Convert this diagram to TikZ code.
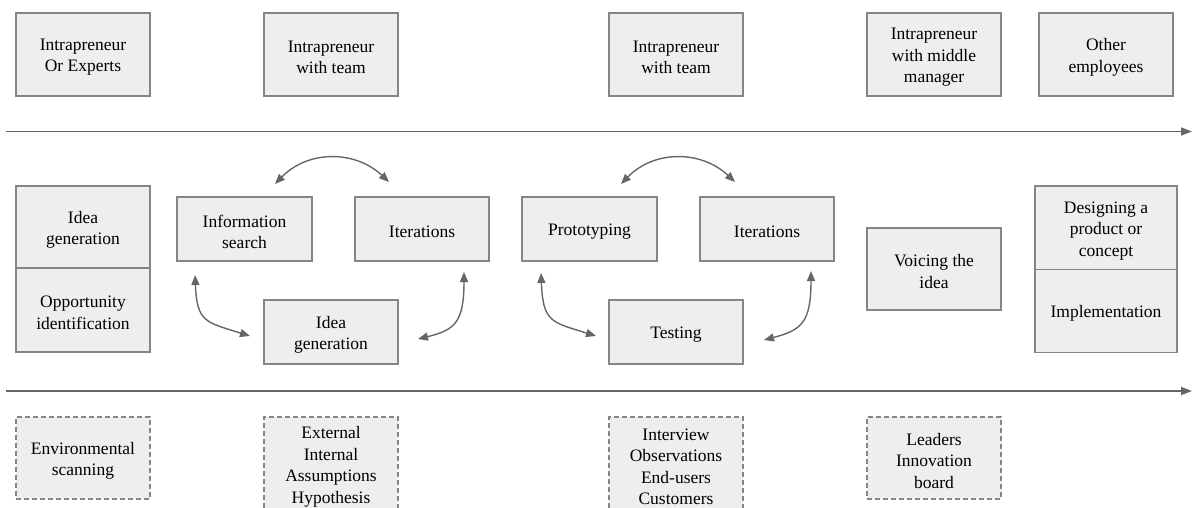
\documentclass[tikz,border=0pt]{standalone}
\usepackage{fontspec}
\setmainfont{Liberation Serif}
\usetikzlibrary{arrows.meta}
\definecolor{boxfill}{HTML}{EEEEEE}
\definecolor{boxline}{HTML}{858585}
\definecolor{arrline}{HTML}{666666}
\newcommand\boxnode[6][bx]{%
  \node[#1, minimum width=#4pt, minimum height=#5pt] (#2) at (#3) {};
  \node[txt] (#2t) at ([yshift=-2.7pt]#2.center) {#6};}
\begin{document}
\begin{tikzpicture}[x=1pt,y=-1pt,
  bx/.style={draw=boxline, fill=boxfill, line width=1.3pt, inner sep=0pt},
  dbx/.style={bx, dash pattern=on 5pt off 3pt},
  txt/.style={inner sep=0pt, align=center, font=\fontsize{17.5}{21.5}\selectfont, text=black},
  conn/.style={draw=arrline, line width=1.4pt, {Triangle[length=10pt,width=8pt]}-{Triangle[length=10pt,width=8pt]}, fill=none},
  axis/.style={draw=arrline, line width=1.4pt, -{Triangle[length=11pt,width=8pt]}}]
\useasboundingbox (0,0) rectangle (1192,508);
% top row
\boxnode{t1}{83,54.5}{134}{83}{Intrapreneur\\Or Experts}
\boxnode{t2}{331,54.5}{134}{83}{Intrapreneur\\with team}
\boxnode{t3}{676,54.5}{134}{83}{Intrapreneur\\with team}
\boxnode{t4}{934,54.5}{134}{83}{Intrapreneur\\with middle\\manager}
\boxnode{t5}{1106,54.5}{134}{83}{Other\\employees}
% axes
\coordinate (a1s) at (6,131.5);
\coordinate (a1e) at (1192,131.5);
\coordinate (a2s) at (6,391);
\coordinate (a2e) at (1192,391);
\draw[axis] (a1s) -- (a1e);
\draw[axis] (a2s) -- (a2e);
% middle
\boxnode{lsu}{83,227}{134}{82}{Idea\\generation}
\boxnode{lsd}{83,310}{134}{84}{Opportunity\\identification}
\boxnode{info}{244.5,229}{135}{64}{Information\\search}
\boxnode{it1}{422,229}{134}{64}{Iterations}
\boxnode{ig}{331,332}{134}{64}{Idea\\generation}
\boxnode{proto}{589.5,229}{135}{64}{Prototyping}
\boxnode{it2}{767,229}{134}{64}{Iterations}
\boxnode{test}{676,332}{134}{64}{Testing}
\boxnode{voice}{934,269}{134}{82}{Voicing the\\idea}
\boxnode{rsu}{1106,228}{142}{84}{Designing a\\product or\\concept}
\boxnode{rsd}{1106,311}{142}{83}{Implementation}
% cycle 1 connectors
\coordinate (c1a) at (275,184);
\coordinate (c1b) at (389,182);
\coordinate (c1c) at (195,275);
\coordinate (c1d) at (250,336);
\coordinate (c1e) at (464,272);
\coordinate (c1f) at (418,339);
\draw[conn] (c1a) .. controls (308,150) and (355,150) .. (c1b);
\draw[conn] (c1c) .. controls (197,322) and (205,322) .. (c1d);
\draw[conn] (c1e) .. controls (464,322) and (455,330) .. (c1f);
% cycle 2 connectors
\coordinate (c2a) at (621,184);
\coordinate (c2b) at (735,182);
\coordinate (c2c) at (541,273);
\coordinate (c2d) at (596,336);
\coordinate (c2e) at (811,271);
\coordinate (c2f) at (764,340);
\draw[conn] (c2a) .. controls (654,150) and (701,150) .. (c2b);
\draw[conn] (c2c) .. controls (543,322) and (551,322) .. (c2d);
\draw[conn] (c2e) .. controls (811,322) and (802,330) .. (c2f);
% bottom row
\boxnode[dbx]{env}{83,458}{134}{82}{Environmental\\scanning}
\boxnode[dbx]{ext}{331,464}{134}{94}{External\\Internal\\Assumptions\\Hypothesis}
\boxnode[dbx]{intv}{676,464}{134}{94}{Interview\\Observations\\End-users\\Customers}
\boxnode[dbx]{lead}{934,458}{134}{82}{Leaders\\Innovation\\board}
\end{tikzpicture}
\end{document}
